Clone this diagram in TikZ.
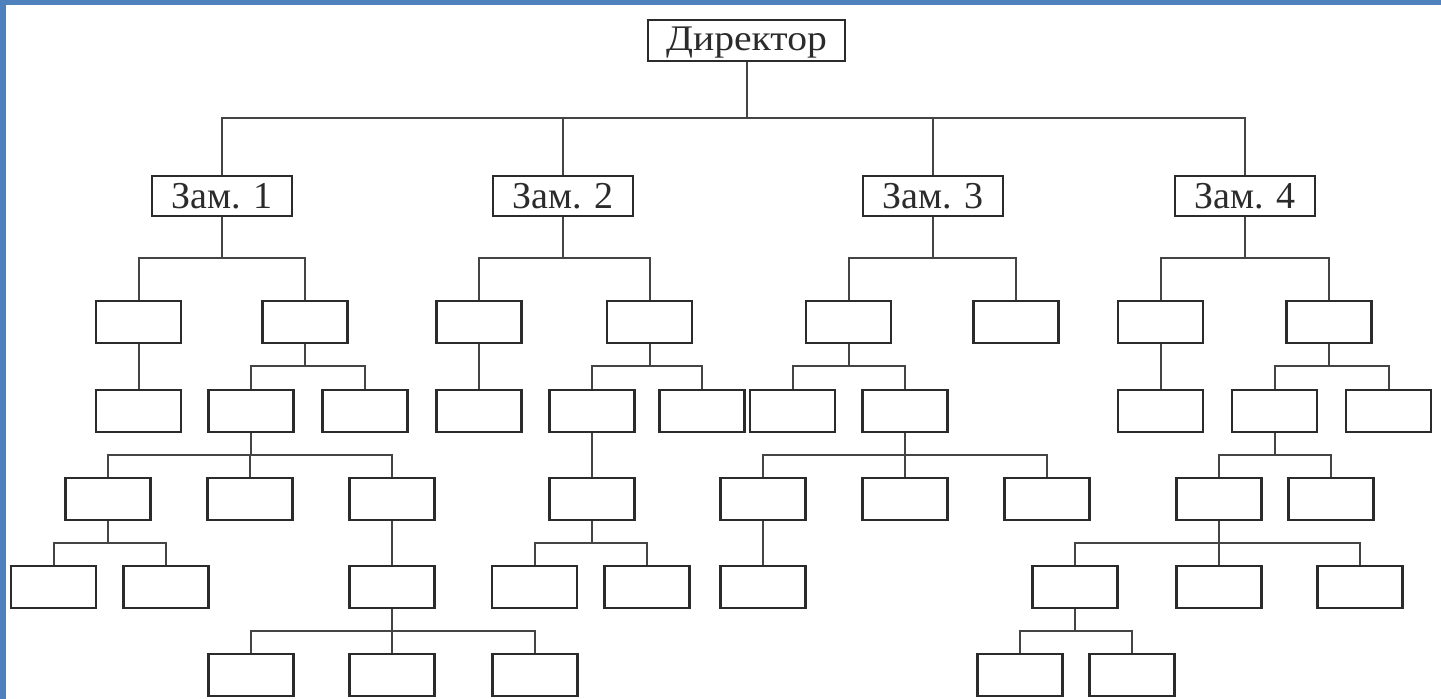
\documentclass[tikz,border=0pt]{standalone}
\usepackage{fontspec}
\setmainfont{Liberation Serif}
\newfontfamily\dirfont{Liberation Serif}[FakeStretch=1.1]
\definecolor{slideblue}{HTML}{4F81BD}
\definecolor{boxc}{HTML}{2B2B2B}
\definecolor{linec}{HTML}{444444}
\newcommand\tconn[3]{\draw[conn] (#1.south) -- ++(0,#3) -| (#2.north);}
\begin{document}
\begin{tikzpicture}[x=1pt,y=-1pt,
  box/.style={draw=boxc, line width=2.4pt, minimum width=85pt, minimum height=42pt, inner sep=0pt, fill=white},
  zam/.style={box, minimum width=140pt, minimum height=40pt, font=\fontsize{38}{42}\selectfont, text=boxc, text height=25pt, text depth=0pt},
  conn/.style={draw=linec, line width=2pt}]
\useasboundingbox (0,0) rectangle (1441,699);
\fill[white] (0,0) rectangle (1441,699);
\fill[slideblue] (0,0) rectangle (6,699);
\fill[slideblue] (0,0) rectangle (1441,5);

% top
\node[zam, minimum width=197pt, minimum height=41pt, font=\dirfont\fontsize{36}{40}\selectfont, text height=24pt, text depth=4pt] (dir) at (746.5,40.5) {Директор};
\node[zam] (z1) at (222,196) {Зам. 1};
\node[zam] (z2) at (563,196) {Зам. 2};
\node[zam] (z3) at (933,196) {Зам. 3};
\node[zam] (z4) at (1245,196) {Зам. 4};

% subtree 1
\node[box] (a1) at (138.5,322) {};
\node[box] (a2) at (305,322) {};
\node[box] (b1) at (138.5,411) {};
\node[box] (b2) at (251,411) {};
\node[box] (b3) at (365,411) {};
\node[box] (c1) at (108,499) {};
\node[box] (c2) at (250,499) {};
\node[box] (c3) at (392,499) {};
\node[box] (d1) at (53.5,587) {};
\node[box] (d2) at (166,587) {};
\node[box] (d3) at (392,587) {};
\node[box] (e1) at (251,675) {};
\node[box] (e2) at (392,675) {};
\node[box] (e3) at (535,675) {};

% subtree 2
\node[box] (f1) at (479,322) {};
\node[box] (f2) at (649.5,322) {};
\node[box] (g1) at (479,411) {};
\node[box] (g2) at (592,411) {};
\node[box] (g3) at (702,411) {};
\node[box] (h1) at (592,499) {};
\node[box] (i1) at (534.5,587) {};
\node[box] (i2) at (647,587) {};

% subtree 3
\node[box] (j1) at (848.5,322) {};
\node[box] (j2) at (1016,322) {};
\node[box] (k1) at (792.5,411) {};
\node[box] (k2) at (905,411) {};
\node[box] (l1) at (763,499) {};
\node[box] (l2) at (905,499) {};
\node[box] (l3) at (1047,499) {};
\node[box] (m1) at (763,587) {};

% subtree 4
\node[box] (n1) at (1160.5,322) {};
\node[box] (n2) at (1329,322) {};
\node[box] (o1) at (1160.5,411) {};
\node[box] (o2) at (1274.5,411) {};
\node[box] (o3) at (1388.5,411) {};
\node[box] (p1) at (1219,499) {};
\node[box] (p2) at (1331,499) {};
\node[box] (q1) at (1075,587) {};
\node[box] (q2) at (1219,587) {};
\node[box] (q3) at (1360,587) {};
\node[box] (r1) at (1020,675) {};
\node[box] (r2) at (1132,675) {};

% connectors
\foreach \z in {z1,z2,z3,z4} {\tconn{dir}{\z}{56}}
\tconn{z1}{a1}{41} \tconn{z1}{a2}{41}
\tconn{a1}{b1}{22}
\tconn{a2}{b2}{22} \tconn{a2}{b3}{22}
\tconn{b2}{c1}{22} \tconn{b2}{c2}{22} \tconn{b2}{c3}{22}
\tconn{c1}{d1}{22} \tconn{c1}{d2}{22}
\tconn{c3}{d3}{22}
\tconn{d3}{e1}{22} \tconn{d3}{e2}{22} \tconn{d3}{e3}{22}

\tconn{z2}{f1}{41} \tconn{z2}{f2}{41}
\tconn{f1}{g1}{22}
\tconn{f2}{g2}{22} \tconn{f2}{g3}{22}
\tconn{g2}{h1}{22}
\tconn{h1}{i1}{22} \tconn{h1}{i2}{22}

\tconn{z3}{j1}{41} \tconn{z3}{j2}{41}
\tconn{j1}{k1}{22} \tconn{j1}{k2}{22}
\tconn{k2}{l1}{22} \tconn{k2}{l2}{22} \tconn{k2}{l3}{22}
\tconn{l1}{m1}{22}

\tconn{z4}{n1}{41} \tconn{z4}{n2}{41}
\tconn{n1}{o1}{22}
\tconn{n2}{o2}{22} \tconn{n2}{o3}{22}
\tconn{o2}{p1}{22} \tconn{o2}{p2}{22}
\tconn{p1}{q1}{22} \tconn{p1}{q2}{22} \tconn{p1}{q3}{22}
\tconn{q1}{r1}{22} \tconn{q1}{r2}{22}
\end{tikzpicture}
\end{document}
